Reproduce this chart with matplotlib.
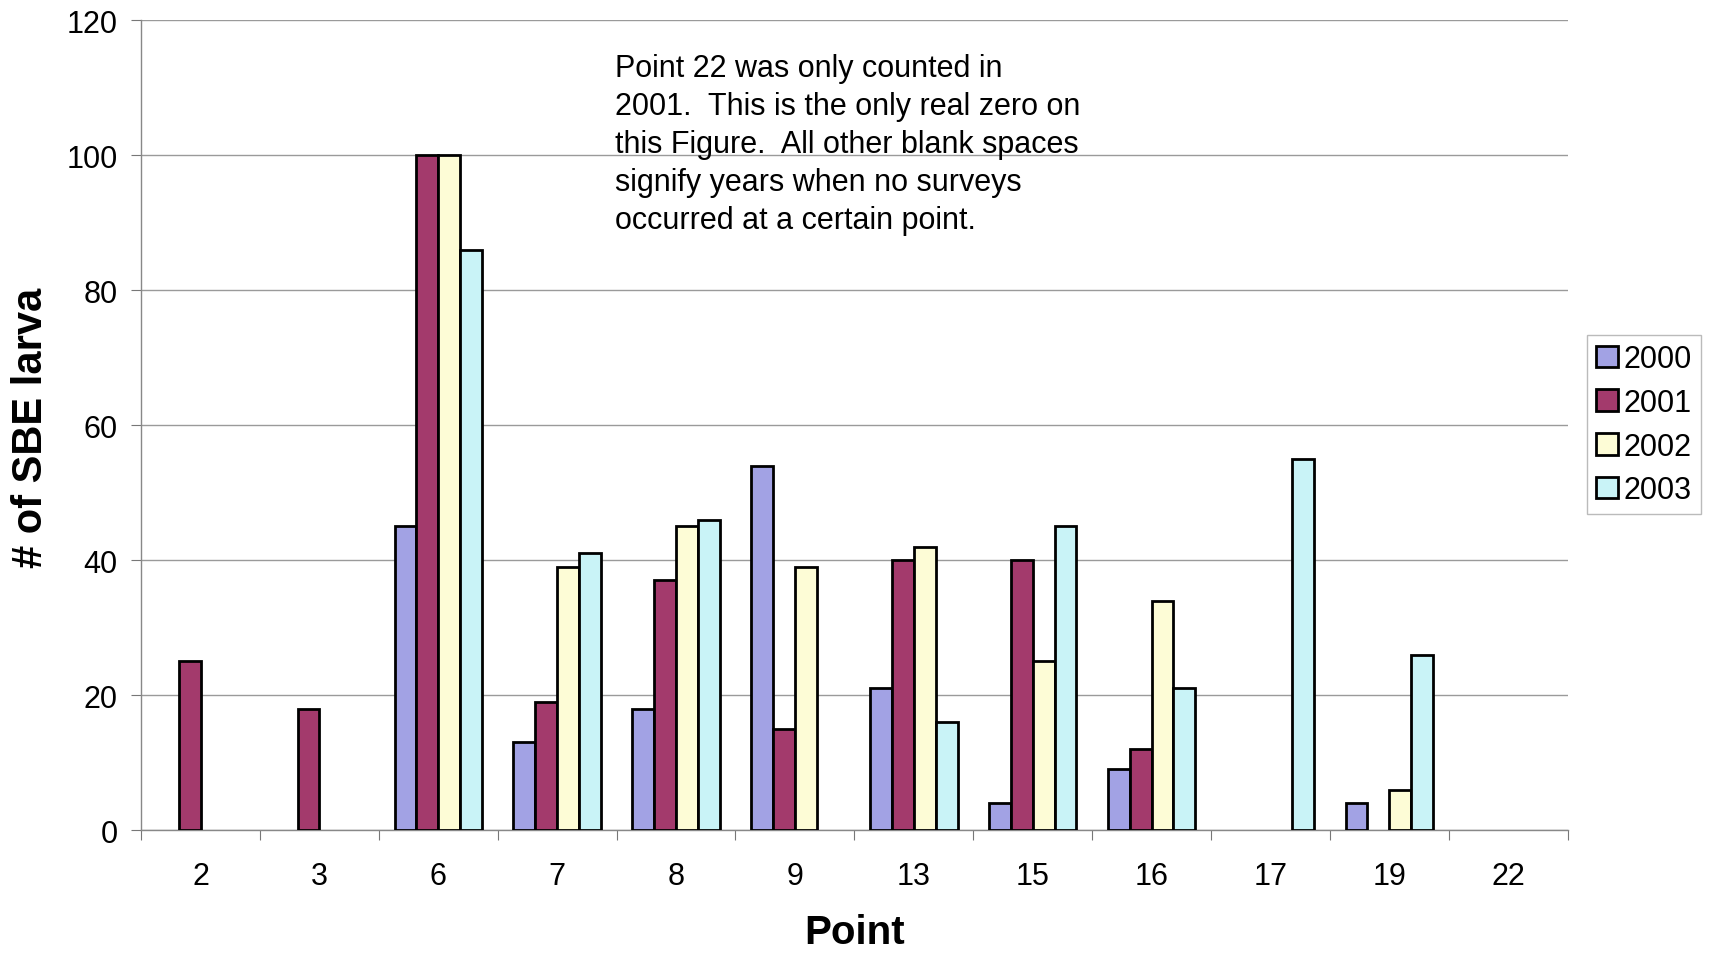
import numpy as np
import matplotlib.pyplot as plt

plt.rcParams['font.family'] = ['Liberation Sans', 'DejaVu Sans']

# survey points and yearly larva counts (nan = no survey that year)
points = ['2', '3', '6', '7', '8', '9', '13', '15', '16', '17', '19', '22']
years = ['2000', '2001', '2002', '2003']
nan = np.nan
sbe_2000 = [nan, nan, 45, 13, 18, 54, 21, 4, 9, nan, 4, nan]
sbe_2001 = [25, 18, 100, 19, 37, 15, 40, 40, 12, nan, nan, 0]
sbe_2002 = [nan, nan, 100, 39, 45, 39, 42, 25, 34, nan, 6, nan]
sbe_2003 = [nan, nan, 86, 41, 46, nan, 16, 45, 21, 55, 26, nan]
colors = ['#a2a2e4', '#a33a6c', '#fdfcd6', '#c9f3f7']

note = ("Point 22 was only counted in\n"
        "2001.  This is the only real zero on\n"
        "this Figure.  All other blank spaces\n"
        "signify years when no surveys\n"
        "occurred at a certain point.")

fig = plt.figure(figsize=(17.12, 9.62), dpi=100)
ax = fig.add_axes([0.0824, 0.136, 0.8333, 0.842])

x = np.arange(len(points))
w = 0.184
series = [sbe_2000, sbe_2001, sbe_2002, sbe_2003]
for i, (vals, c, yr) in enumerate(zip(series, colors, years)):
    vals = np.array(vals, dtype=float)
    ok = ~np.isnan(vals)
    xs = x[ok] + (i - 1.5) * w
    lw = np.where(vals[ok] > 0, 2.0, 0)
    ax.bar(xs, vals[ok], width=w, color=c, edgecolor='black',
           linewidth=lw, label=yr, zorder=3)

ax.set_xlim(-0.5, len(points) - 0.5)
ax.set_ylim(0, 120)
ax.set_yticks(np.arange(0, 121, 20))
ax.yaxis.grid(True, color='#9a9a9a', linewidth=1.0, zorder=0)

ax.set_xticks(x)
ax.set_xticklabels(points)
ax.set_xticks(np.arange(-0.5, len(points), 1), minor=True)
ax.tick_params(axis='x', which='major', length=0, pad=22, labelsize=22)
ax.tick_params(axis='x', which='minor', length=7, width=0.8, color='#777777')
ax.tick_params(axis='y', length=7, width=0.8, color='#777777', pad=10, labelsize=22)

for s in ['top', 'right']:
    ax.spines[s].set_visible(False)
for s in ['left', 'bottom']:
    ax.spines[s].set_color('#888888')
    ax.spines[s].set_linewidth(1.0)

ax.set_xlabel('Point', fontsize=29, fontweight='bold', labelpad=16)
fig.text(0.018, 0.555, '# of SBE larva', rotation=90, fontsize=30,
         fontweight='bold', ha='center', va='center')

fig.text(0.359, 0.944, note, fontsize=22, va='top', ha='left', linespacing=1.35)

leg = fig.legend(loc='center left', bbox_to_anchor=(0.927, 0.5575), fontsize=22,
                 frameon=True, fancybox=False, edgecolor='#aaaaaa',
                 handlelength=0.7, handleheight=0.7, handletextpad=0.2,
                 labelspacing=0.45, borderpad=0.3, borderaxespad=0)
leg.get_frame().set_linewidth(1.0)

fig.savefig('out.png', dpi=100)
